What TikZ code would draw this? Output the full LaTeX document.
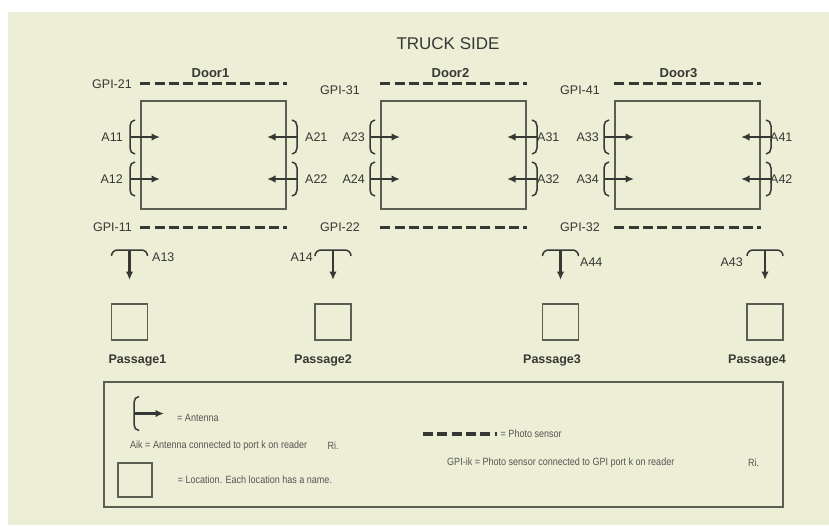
\documentclass[tikz,border=0pt]{standalone}
\usepackage{fontspec}
\setmainfont{Liberation Sans}
\newfontfamily\legfont[FakeStretch=0.86]{Liberation Sans}
\usetikzlibrary{arrows.meta,positioning}
\definecolor{cream}{RGB}{237,238,214}
\definecolor{ink}{RGB}{55,55,52}
\definecolor{frame}{RGB}{92,94,84}

\begin{document}
\begin{tikzpicture}[x=1pt,y=-1pt,
  door/.style={draw=frame, line width=1.4pt, minimum width=145pt, minimum height=108pt, inner sep=0pt},
  psg/.style={draw=frame, line width=1.3pt, minimum width=36pt, minimum height=36pt, inner sep=0pt},
  lab/.style={font=\fontsize{12.5}{14}\selectfont, text=ink, inner sep=0pt},
  dlab/.style={font=\fontsize{13}{15}\selectfont\bfseries, text=ink, inner sep=0pt},
  plab/.style={font=\fontsize{12.5}{14}\selectfont\bfseries, text=ink, inner sep=0pt, anchor=base},
  leg/.style={font=\legfont\fontsize{10.5}{12}\selectfont, text=ink!85, inner sep=0pt, anchor=west},
  sensor/.style={draw=ink, line width=3.2pt, dash pattern=on 10pt off 4.3pt},
  brk/.style={draw=ink, line width=1.5pt},
  arr/.style={draw=ink, line width=2.2pt, -{Latex[length=8.5pt,width=7.5pt]}},
  antR/.pic={\coordinate (-base) at (0,0); \coordinate (-tip) at (30,0);
    \draw[brk] (5,-17) to[out=180,in=90] (0,-11) -- (0,11) to[out=-90,in=180] (5,17);
    \draw[arr] (-base) -- (-tip);},
  antL/.pic={\coordinate (-base) at (0,0); \coordinate (-tip) at (-30,0);
    \draw[brk] (-5,-17) to[out=0,in=90] (0,-11) -- (0,11) to[out=-90,in=0] (-5,17);
    \draw[arr] (-base) -- (-tip);},
  antD/.pic={\coordinate (-base) at (0,0); \coordinate (-tip) at (0,30);
    \draw[brk] (-18,6) to[out=90,in=180] (-12,0) -- (12,0) to[out=0,in=90] (18,6);
    \draw[arr] (-base) -- (-tip);}]
  \useasboundingbox (0,0) rectangle (829,525);
  \fill[cream] (8,12) rectangle (829,525);
  \node[font=\fontsize{17}{20}\selectfont, text=ink, inner sep=0pt] (title) at (448,44) {TRUCK SIDE};
  % doors with their antennas and photo sensors
  \foreach \i/\x/\dx/\la/\lb/\ra/\rb/\lo/\ro in {1/213.5/-3/A11/A12/A21/A22/7/8,
      2/453.5/-3/A23/A24/A31/A32/5/0, 3/687.5/-9/A33/A34/A41/A42/5/-1}{
    \node[door] (d\i) at (\x,155) {};
    \node[dlab] (n\i) at (\x+\dx,73) {Door\i};
    \draw[sensor] ([yshift=17pt]d\i.north west) -- ([yshift=17pt]d\i.north east);
    \draw[sensor] ([yshift=-18pt]d\i.south west) -- ([yshift=-18pt]d\i.south east);
    \pic (\la) at (\x-83.5,137) {antR};
    \pic (\lb) at (\x-83.5,179) {antR};
    \pic (\ra) at (\x+83.5,137) {antL};
    \pic (\rb) at (\x+83.5,179) {antL};
    \node[lab, anchor=east] (l\la) at (\x-83.5-\lo,137) {\la};
    \node[lab, anchor=east] (l\lb) at (\x-83.5-\lo,179) {\lb};
    \node[lab, anchor=west] (l\ra) at (\x+83.5+\ro,137) {\ra};
    \node[lab, anchor=west] (l\rb) at (\x+83.5+\ro,179) {\rb};}
  \foreach \t/\x/\y in {GPI-21/132/84, GPI-31/360/90, GPI-41/600/90,
      GPI-11/132/227, GPI-22/360/227, GPI-32/600/227}
    \node[lab, anchor=east] (g\t) at (\x,\y) {\t};
  % passages
  \foreach \i/\x/\lx/\a/\an/\ax/\ay in {1/129.5/137.5/A13/west/152/257, 2/333/323/A14/east/313/257,
      3/560.5/552/A44/west/580/262, 4/765/757/A43/east/743/262}{
    \pic (\a) at (\x,250) {antD};
    \node[lab, anchor=\an] (l\a) at (\ax,\ay) {\a};
    \node[psg] (p\i) at (\x,322) {};
    \node[plab] (pl\i) at (\lx,363) {Passage\i};}
  % legend
  \node[draw=frame, line width=1.4pt, minimum width=679pt, minimum height=125pt, inner sep=0pt] (key) at (443.5,444.5) {};
  \pic (kant) at (134,413.5) {antR};
  \node[leg] (kantt) at (177,418) {= Antenna};
  \node[leg] (kaik) at (130,446) {Aik = Antenna connected to port k on reader};
  \node[leg, right=20pt of kaik] (kri1) {Ri.};
  \node[psg, minimum width=34pt, minimum height=34pt] (kloc) at (135,480) {};
  \node[leg, right=25pt of kloc] (kloct) {= Location. Each location has a name.};
  \coordinate (kd1) at (423,434);
  \coordinate (kd2) at (496.5,434);
  \draw[sensor] (kd1) -- (kd2);
  \node[leg, right=4pt of kd2] (kdt) {= Photo sensor};
  \node[leg] (kgpi) at (447,463) {GPI-ik = Photo sensor connected to GPI port k on reader};
  \node[leg] (kri2) at (748,463) {Ri.};
\end{tikzpicture}
\end{document}
